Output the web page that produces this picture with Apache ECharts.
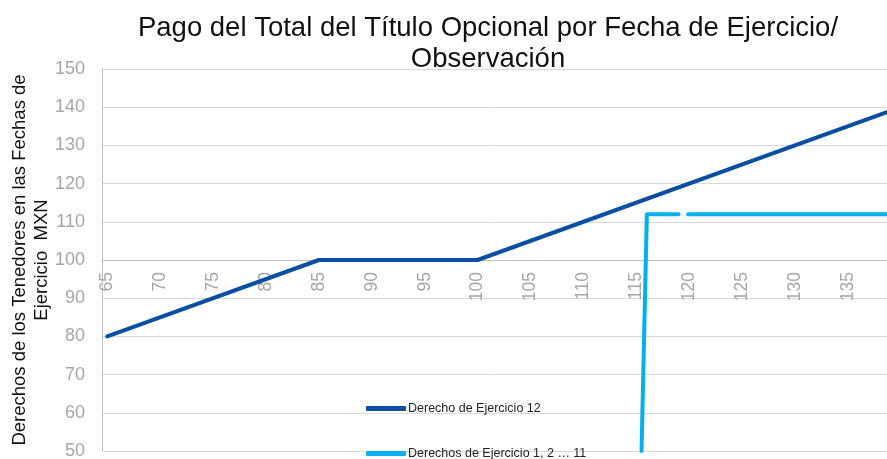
<!DOCTYPE html>
<html>
<head>
<meta charset="utf-8">
<script src="https://cdn.jsdelivr.net/npm/echarts@6/dist/echarts.min.js"></script>
<style>html,body{margin:0;padding:0;background:#fff}#c{width:887px;height:459px}</style>
</head>
<body>
<div id="c"></div>
<script>
var titleText = 'Pago del Total del Título Opcional por Fecha de Ejercicio/\nObservación';
var yName = 'Derechos de los Tenedores en las Fechas de\nEjercicio  MXN';
var seriesNames = ['Derecho de Ejercicio 12', 'Derechos de Ejercicio 1, 2 … 11'];
var xTicks = [65, 70, 75, 80, 85, 90, 95, 100, 105, 110, 115, 120, 125, 130, 135];
var darkX = [65, 85, 100, 140];
var darkY = [80, 100, 100, 140];
var lightX = [115.5, 116.0, 119.0, 119.45, 119.9, 140];
var lightY = [50, 112, 112, '-', 112, 112];

function pairs(xs, ys) { return xs.map(function (x, i) { return [x, ys[i]]; }); }

var chart = echarts.init(document.getElementById('c'), null, { renderer: 'canvas' });
var font = 'Liberation Sans, Arial, sans-serif';
function legendAt(name, top) {
  return {
    orient: 'vertical', left: 366, top: top, padding: 0,
    itemWidth: 40, itemHeight: 5, itemGap: 0,
    icon: 'roundRect',
    textStyle: { fontFamily: font, fontSize: 12.5, color: '#222', padding: [0, 0, 0, -3] },
    data: [name]
  };
}
chart.setOption({
  animation: false,
  textStyle: { fontFamily: font },
  title: {
    text: titleText,
    left: 483, top: 8, textAlign: 'center',
    textStyle: { fontFamily: font, fontSize: 27.5, fontWeight: 'normal', color: '#111', lineHeight: 31 }
  },
  legend: [legendAt(seriesNames[0], 402), legendAt(seriesNames[1], 447)],
  grid: { left: 102, right: 0, top: 69, bottom: 8, containLabel: false, outerBoundsMode: 'none' },
  xAxis: {
    type: 'value', min: 64.5, max: 138.7,
    offset: -191,
    axisLine: { show: true, lineStyle: { color: '#bfbfbf', width: 1 } },
    axisTick: { show: false },
    splitLine: { show: false },
    axisLabel: {
      customValues: xTicks, rotate: 90, margin: 12,
      color: '#a6a6a6', fontSize: 17.5, fontFamily: font
    }
  },
  yAxis: {
    type: 'value', min: 50, max: 150, interval: 10,
    name: yName, nameLocation: 'middle', nameRotate: 90, nameGap: 49,
    nameMoveOverlap: false,
    nameTextStyle: { fontFamily: font, fontSize: 18.5, color: '#111', lineHeight: 22 },
    axisLine: { show: true, lineStyle: { color: '#bfbfbf' } },
    axisTick: { show: false },
    splitLine: { show: true, lineStyle: { color: '#d9d9d9' } },
    axisLabel: { color: '#a6a6a6', fontSize: 18, margin: 17, fontFamily: font }
  },
  series: [
    {
      name: seriesNames[0], type: 'line', data: pairs(darkX, darkY),
      symbol: 'none', lineStyle: { color: '#0b4fa3', width: 4, cap: 'round' },
      itemStyle: { color: '#0b4fa3' }
    },
    {
      name: seriesNames[1], type: 'line', data: pairs(lightX, lightY),
      symbol: 'none', connectNulls: false,
      lineStyle: { color: '#00b0f0', width: 4, cap: 'round', join: 'round' },
      itemStyle: { color: '#00b0f0' }
    }
  ]
});
</script>
</body>
</html>
